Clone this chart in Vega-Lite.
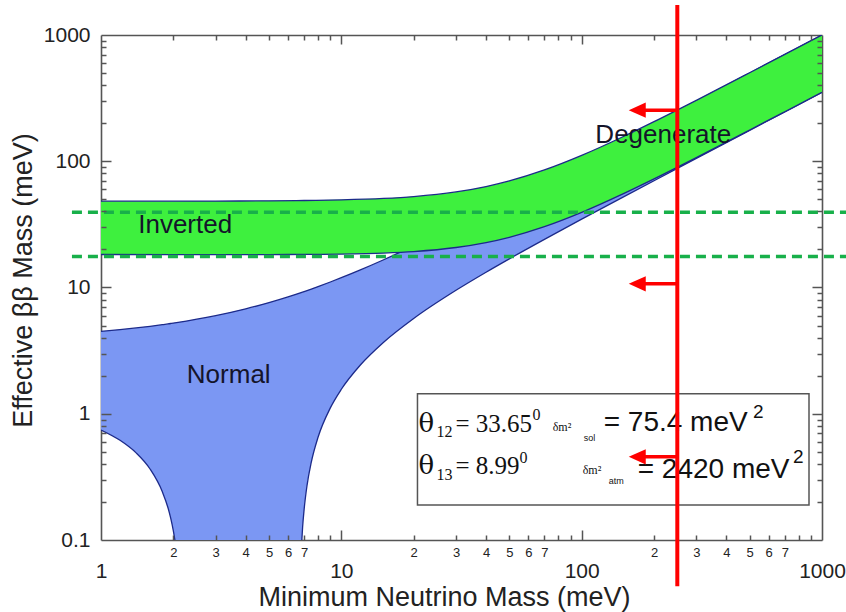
{
  "$schema": "https://vega.github.io/schema/vega-lite/v6.json",
  "width": 721,
  "height": 505,
  "autosize": {"type": "none"},
  "padding": {"left": 101, "top": 35, "right": 24, "bottom": 72},
  "background": "white",
  "config": {
    "view": {"stroke": null},
    "axis": {
      "grid": false, "domainColor": "#555555", "domainWidth": 1.6, "tickColor": "#555555", "tickWidth": 1.5,
      "labelFont": "Liberation Sans", "titleFont": "Liberation Sans", "labelColor": "#222222", "titleColor": "#222222",
      "titleFontWeight": "normal", "zindex": 1, "labelOverlap": false, "labelBound": false, "labelFlush": false
    }
  },
  "datasets": {
    "normal": [
      {"x": 1, "y": 4.497, "y2": 0.744}, {"x": 1.2, "y": 4.64, "y2": 0.616}, {"x": 1.4, "y": 4.784, "y2": 0.49},
      {"x": 1.6, "y": 4.929, "y2": 0.365}, {"x": 1.8, "y": 5.076, "y2": 0.241}, {"x": 1.9, "y": 5.15, "y2": 0.18},
      {"x": 1.95, "y": 5.187, "y2": 0.149}, {"x": 2, "y": 5.224, "y2": 0.118}, {"x": 2.03, "y": 5.247, "y2": 0.1},
      {"x": 3, "y": 5.984, "y2": 0.1}, {"x": 4, "y": 6.774, "y2": 0.1}, {"x": 5, "y": 7.59, "y2": 0.1},
      {"x": 6, "y": 8.428, "y2": 0.1}, {"x": 6.85, "y": 9.157, "y2": 0.1}, {"x": 6.9, "y": 9.2, "y2": 0.126},
      {"x": 7, "y": 9.287, "y2": 0.174}, {"x": 7.2, "y": 9.461, "y2": 0.271}, {"x": 7.5, "y": 9.723, "y2": 0.414},
      {"x": 8, "y": 10.162, "y2": 0.651}, {"x": 9, "y": 11.052, "y2": 1.113}, {"x": 10, "y": 11.953, "y2": 1.563},
      {"x": 12, "y": 13.786, "y2": 2.433}, {"x": 15, "y": 16.588, "y2": 3.686}, {"x": 20, "y": 21.349, "y2": 5.684},
      {"x": 30, "y": 31.043, "y2": 9.505}, {"x": 40, "y": 40.85, "y2": 13.214}, {"x": 50, "y": 50.716, "y2": 16.864},
      {"x": 70, "y": 70.54, "y2": 24.072}, {"x": 100, "y": 100.39, "y2": 34.768}, {"x": 150, "y": 150.27, "y2": 52.473},
      {"x": 200, "y": 200.2, "y2": 70.119}, {"x": 300, "y": 300.14, "y2": 105.34}, {"x": 500, "y": 500.08, "y2": 175.72},
      {"x": 700, "y": 700.06, "y2": 246.06}, {"x": 1000, "y": 1000, "y2": 351.56}
    ],
    "inverted": [
      {"x": 1, "y": 48.255, "y2": 18.249}, {"x": 2, "y": 48.309, "y2": 18.236}, {"x": 3, "y": 48.383, "y2": 18.231},
      {"x": 5, "y": 48.589, "y2": 18.243}, {"x": 7, "y": 48.874, "y2": 18.286}, {"x": 10, "y": 49.442, "y2": 18.408},
      {"x": 15, "y": 50.759, "y2": 18.753}, {"x": 20, "y": 52.508, "y2": 19.268}, {"x": 30, "y": 57.14, "y2": 20.738},
      {"x": 40, "y": 63.01, "y2": 22.686}, {"x": 50, "y": 69.812, "y2": 24.994}, {"x": 70, "y": 85.309, "y2": 30.329},
      {"x": 100, "y": 111.27, "y2": 39.362}, {"x": 150, "y": 157.74, "y2": 55.622}, {"x": 200, "y": 205.87, "y2": 72.508},
      {"x": 300, "y": 303.95, "y2": 106.95}, {"x": 500, "y": 502.38, "y2": 176.68}, {"x": 700, "y": 701.7, "y2": 246.76},
      {"x": 1000, "y": 1000, "y2": 352.05}
    ],
    "dashes": [{"x": 0.757, "x2": 1300, "y": 39.4}, {"x": 0.757, "x2": 1300, "y": 17.6}],
    "redline": [{"x": 250, "y": 1730, "y2": 0.0431}],
    "shafts": [{"x": 250, "x2": 172, "y": 254}, {"x": 250, "x2": 172, "y": 10.7}, {"x": 250, "x2": 172, "y": 0.456}],
    "heads": [{"x": 170.3, "y": 254}, {"x": 170.3, "y": 10.7}, {"x": 170.3, "y": 0.456}],
    "labels": [{"x": 2.24, "y": 26.83, "t": "Inverted"}, {"x": 3.4, "y": 1.762, "t": "Normal"}, {"x": 218.6, "y": 138.9, "t": "Degenerate"}],
    "box": [{"x": 20.74, "x2": 882.9, "y": 1.441, "y2": 0.1896}],
    "theta": [{"x": 20.94, "y": 0.7197, "t": "θ"}, {"x": 20.94, "y": 0.334, "t": "θ"}],
    "serifMain": [{"x": 29.85, "y": 0.7197, "t": "= 33.65"}, {"x": 29.85, "y": 0.334, "t": "= 8.99"}],
    "serifSub": [{"x": 24.88, "y": 0.6568, "t": "12"}, {"x": 24.88, "y": 0.2994, "t": "13"}],
    "serifSup": [{"x": 62.5, "y": 0.896, "t": "0"}, {"x": 55.16, "y": 0.4084, "t": "0"}],
    "delta": [{"x": 75.72, "y": 0.7328, "t": "δm²"}, {"x": 100.97, "y": 0.334, "t": "δm²"}],
    "deltaSub": [{"x": 101.94, "y": 0.6105, "t": "sol"}, {"x": 129.6, "y": 0.2783, "t": "atm"}],
    "sansMain": [{"x": 123.5, "y": 0.7328, "t": "= 75.4 meV"}, {"x": 171.1, "y": 0.3105, "t": "= 2420 meV"}],
    "sansSup": [{"x": 515.9, "y": 0.9295, "t": "2"}, {"x": 757.3, "y": 0.4084, "t": "2"}]
  },
  "encoding": {
    "x": {"field": "x", "type": "quantitative", "scale": {"type": "log", "domain": [1, 1000]}, "axis": null},
    "y": {"field": "y", "type": "quantitative", "scale": {"type": "log", "domain": [0.1, 1000]}, "axis": null}
  },
  "resolve": {"axis": {"x": "independent", "y": "independent"}},
  "layer": [
    {
      "data": {"name": "normal"},
      "mark": {"type": "area", "color": "#7b97f3", "clip": true, "interpolate": "monotone"},
      "encoding": {
        "x": {"field": "x", "type": "quantitative", "scale": {"type": "log", "domain": [1, 1000]},
          "axis": {"orient": "bottom", "values": [1, 10, 100, 1000], "format": "~g", "ticks": false, "tickSize": 0, "labelFontSize": 21, "labelPadding": 20,
            "title": "Minimum Neutrino Mass (meV)", "titleFontSize": 27, "titleX": 343, "titleY": 57, "titleBaseline": "middle", "titleAlign": "center"}},
        "y": {"field": "y", "type": "quantitative", "scale": {"type": "log", "domain": [0.1, 1000]},
          "axis": {"orient": "left", "values": [0.1, 1, 10, 100, 1000], "format": "~g", "ticks": false, "tickSize": 0, "labelFontSize": 21, "labelPadding": 11,
            "title": "Effective ββ Mass (meV)", "titleFontSize": 27, "titleX": -78, "titleY": 245, "titleBaseline": "middle", "titleAlign": "center"}},
        "y2": {"field": "y2"}
      }
    },
    {
      "data": {"name": "normal"},
      "mark": {"type": "line", "color": "#1c2a8a", "strokeWidth": 1.3, "clip": true, "interpolate": "monotone"},
      "encoding": {
        "x": {"field": "x", "type": "quantitative", "scale": {"type": "log", "domain": [1, 1000]},
          "axis": {"orient": "bottom", "values": [2, 3, 4, 5, 6, 7, 8, 9, 20, 30, 40, 50, 60, 70, 80, 90, 200, 300, 400, 500, 600, 700, 800, 900],
            "format": "d", "labelExpr": "indexof(['8','9'], slice(datum.label,0,1)) >= 0 ? '' : slice(datum.label,0,1)",
            "ticks": false, "tickSize": 0, "labelFontSize": 13, "labelPadding": 6, "domain": false, "title": null}},
        "y": {"field": "y", "type": "quantitative", "scale": {"type": "log", "domain": [0.1, 1000]},
          "axis": {"orient": "right", "offset": -721, "values": [1, 10, 100], "ticks": true, "tickSize": 10, "zindex": 1, "labels": false, "domain": false, "title": null}}
      }
    },
    {
      "data": {"name": "normal"},
      "transform": [{"filter": "datum.x <= 2.03"}],
      "mark": {"type": "line", "color": "#1c2a8a", "strokeWidth": 1.3, "clip": true, "interpolate": "monotone"},
      "encoding": {
        "x": {"field": "x", "type": "quantitative", "scale": {"type": "log", "domain": [1, 1000]},
          "axis": {"orient": "top", "values": [1, 10, 100, 1000], "ticks": false, "tickSize": 0, "labels": false, "domain": true, "title": null}},
        "y": {"field": "y2", "type": "quantitative", "scale": {"type": "log", "domain": [0.1, 1000]},
          "axis": {"orient": "right", "values": [0.1, 1, 10, 100, 1000], "ticks": false, "tickSize": 0, "labels": false, "domain": true, "title": null}}
      }
    },
    {
      "data": {"name": "normal"},
      "transform": [{"filter": "datum.x >= 6.85"}],
      "mark": {"type": "line", "color": "#1c2a8a", "strokeWidth": 1.3, "clip": true, "interpolate": "monotone"},
      "encoding": {
        "x": {"field": "x", "type": "quantitative", "scale": {"type": "log", "domain": [1, 1000]},
          "axis": {"orient": "top", "offset": -505, "values": [10, 100], "ticks": true, "tickSize": 10, "zindex": 1, "labels": false, "domain": false, "title": null}},
        "y": {"field": "y2", "type": "quantitative", "scale": {"type": "log", "domain": [0.1, 1000]},
          "axis": {"orient": "right", "offset": -721, "values": [0.2, 0.3, 0.4, 0.5, 0.6, 0.7, 0.8, 0.9, 2, 3, 4, 5, 6, 7, 8, 9, 20, 30, 40, 50, 60, 70, 80, 90, 200, 300, 400, 500, 600, 700, 800, 900],
            "ticks": true, "tickSize": 5, "zindex": 1, "labels": false, "domain": false, "title": null}}
      }
    },
    {
      "data": {"name": "inverted"},
      "mark": {"type": "area", "color": "#3ef03e", "clip": true, "interpolate": "monotone"},
      "encoding": {
        "x": {"field": "x", "type": "quantitative", "scale": {"type": "log", "domain": [1, 1000]},
          "axis": {"orient": "top", "offset": -505, "values": [2, 3, 4, 5, 6, 7, 8, 9, 20, 30, 40, 50, 60, 70, 80, 90, 200, 300, 400, 500, 600, 700, 800, 900],
            "ticks": true, "tickSize": 5, "zindex": 1, "labels": false, "domain": false, "title": null}},
        "y": {"field": "y", "type": "quantitative", "scale": {"type": "log", "domain": [0.1, 1000]},
          "axis": {"orient": "left", "offset": -721, "values": [1, 10, 100], "ticks": true, "tickSize": 10, "zindex": 1, "labels": false, "domain": false, "title": null}},
        "y2": {"field": "y2"}
      }
    },
    {
      "data": {"name": "inverted"},
      "mark": {"type": "line", "color": "#1c2a8a", "strokeWidth": 1.3, "clip": true, "interpolate": "monotone"},
      "encoding": {
        "x": {"field": "x", "type": "quantitative", "scale": {"type": "log", "domain": [1, 1000]},
          "axis": {"orient": "bottom", "offset": -505, "values": [10, 100], "ticks": true, "tickSize": 9, "zindex": 1, "labels": false, "domain": false, "title": null}},
        "y": {"field": "y", "type": "quantitative", "scale": {"type": "log", "domain": [0.1, 1000]},
          "axis": {"orient": "left", "offset": -721, "values": [0.2, 0.3, 0.4, 0.5, 0.6, 0.7, 0.8, 0.9, 2, 3, 4, 5, 6, 7, 8, 9, 20, 30, 40, 50, 60, 70, 80, 90, 200, 300, 400, 500, 600, 700, 800, 900],
            "ticks": true, "tickSize": 5, "zindex": 1, "labels": false, "domain": false, "title": null}}
      }
    },
    {
      "data": {"name": "inverted"},
      "mark": {"type": "line", "color": "#1c2a8a", "strokeWidth": 1.3, "clip": true, "interpolate": "monotone"},
      "encoding": {
        "x": {"field": "x", "type": "quantitative", "scale": {"type": "log", "domain": [1, 1000]},
          "axis": {"orient": "bottom", "offset": -505, "values": [2, 3, 4, 5, 6, 7, 8, 9, 20, 30, 40, 50, 60, 70, 80, 90, 200, 300, 400, 500, 600, 700, 800, 900],
            "ticks": true, "tickSize": 5, "zindex": 1, "labels": false, "domain": false, "title": null}},
        "y": {"field": "y2", "type": "quantitative", "scale": {"type": "log", "domain": [0.1, 1000]}, "axis": null}
      }
    },
    {
      "data": {"name": "dashes"},
      "mark": {"type": "rule", "color": "#18b04a", "strokeWidth": 3.5, "strokeDash": [10, 6]},
      "encoding": {"x2": {"field": "x2"}}
    },
    {
      "data": {"name": "labels"},
      "mark": {"type": "text", "font": "Liberation Sans", "fontSize": 26, "align": "center", "baseline": "alphabetic", "color": "#14142a"},
      "encoding": {"text": {"field": "t"}}
    },
    {
      "data": {"name": "box"},
      "mark": {"type": "rect", "fill": "white", "stroke": "#555555", "strokeWidth": 1.5},
      "encoding": {"x2": {"field": "x2"}, "y2": {"field": "y2"}}
    },
    {
      "data": {"name": "theta"},
      "mark": {"type": "text", "font": "DejaVu Serif", "fontSize": 26, "align": "left", "baseline": "alphabetic", "color": "#111111"},
      "encoding": {"text": {"field": "t"}}
    },
    {
      "data": {"name": "serifMain"},
      "mark": {"type": "text", "font": "Liberation Serif", "fontSize": 25, "align": "left", "baseline": "alphabetic", "color": "#111111"},
      "encoding": {"text": {"field": "t"}}
    },
    {
      "data": {"name": "serifSub"},
      "mark": {"type": "text", "font": "Liberation Serif", "fontSize": 16, "align": "left", "baseline": "alphabetic", "color": "#111111"},
      "encoding": {"text": {"field": "t"}}
    },
    {
      "data": {"name": "serifSup"},
      "mark": {"type": "text", "font": "Liberation Serif", "fontSize": 16, "align": "left", "baseline": "alphabetic", "color": "#111111"},
      "encoding": {"text": {"field": "t"}}
    },
    {
      "data": {"name": "delta"},
      "mark": {"type": "text", "font": "Liberation Serif", "fontSize": 12, "align": "left", "baseline": "alphabetic", "color": "#111111"},
      "encoding": {"text": {"field": "t"}}
    },
    {
      "data": {"name": "deltaSub"},
      "mark": {"type": "text", "font": "Liberation Sans", "fontSize": 9, "align": "left", "baseline": "alphabetic", "color": "#111111"},
      "encoding": {"text": {"field": "t"}}
    },
    {
      "data": {"name": "sansMain"},
      "mark": {"type": "text", "font": "Liberation Sans", "fontSize": 28, "align": "left", "baseline": "alphabetic", "color": "#111111"},
      "encoding": {"text": {"field": "t"}}
    },
    {
      "data": {"name": "sansSup"},
      "mark": {"type": "text", "font": "Liberation Sans", "fontSize": 19, "align": "left", "baseline": "alphabetic", "color": "#111111"},
      "encoding": {"text": {"field": "t"}}
    },
    {
      "data": {"name": "redline"},
      "mark": {"type": "rule", "color": "#ff0000", "strokeWidth": 4},
      "encoding": {"y2": {"field": "y2"}}
    },
    {
      "data": {"name": "shafts"},
      "mark": {"type": "rule", "color": "#ff0000", "strokeWidth": 3.5},
      "encoding": {"x2": {"field": "x2"}}
    },
    {
      "data": {"name": "heads"},
      "mark": {"type": "point", "shape": "M -1 0 L 1 -0.9 L 1 0.9 Z", "size": 289, "filled": true, "color": "#ff0000", "opacity": 1}
    }
  ]
}
